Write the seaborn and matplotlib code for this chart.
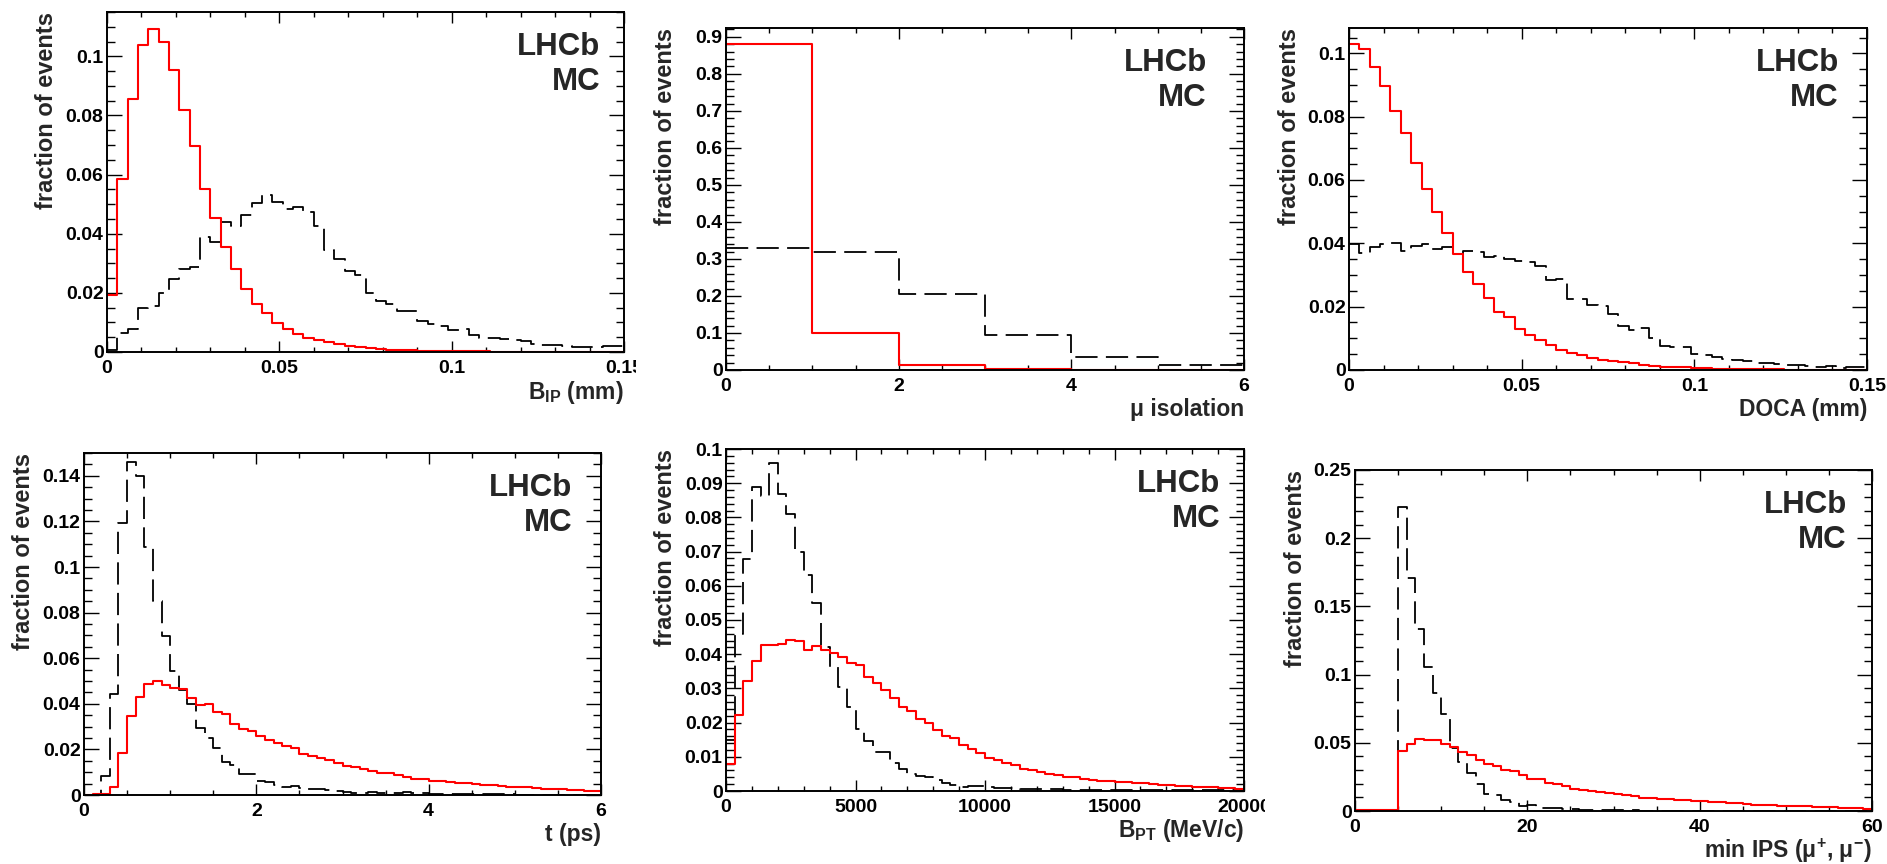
import numpy as np
import pandas as pd
import matplotlib
matplotlib.use("Agg")
import matplotlib.pyplot as plt
import seaborn as sns
from matplotlib.ticker import MultipleLocator, FuncFormatter
from matplotlib.transforms import offset_copy, Bbox

# ---------------- data (fraction of events per bin) ----------------
# Panel 1: B_IP (mm), 50 bins in [0, 0.15]
bip_range = (0.0, 0.15)
bip_sig = [0.0193, 0.0584, 0.0856, 0.1040, 0.1094, 0.1048, 0.0955, 0.0819, 0.0697, 0.0552,
           0.0452, 0.0356, 0.0280, 0.0212, 0.0162, 0.0131, 0.0098, 0.0078, 0.0062, 0.0049,
           0.0039, 0.0033, 0.0027, 0.0021, 0.0017, 0.0013, 0.0010, 0.0008, 0.0007, 0.0006,
           0.0005, 0.0004, 0.0003, 0.0003, 0.0002, 0.0002, 0.0002, 0.0001, 0.0001, 0.0001,
           0.0001, 0.0001, 0.0001, 0.0001, 0.0000, 0.0000, 0.0000, 0.0000, 0.0000, 0.0000]
bip_bkg = [0.0008, 0.0064, 0.0078, 0.0148, 0.0156, 0.0200, 0.0246, 0.0280, 0.0289, 0.0390,
           0.0373, 0.0440, 0.0427, 0.0465, 0.0504, 0.0530, 0.0509, 0.0483, 0.0490, 0.0472,
           0.0426, 0.0345, 0.0313, 0.0274, 0.0260, 0.0198, 0.0173, 0.0163, 0.0140, 0.0138,
           0.0106, 0.0094, 0.0089, 0.0075, 0.0078, 0.0058, 0.0049, 0.0046, 0.0044, 0.0042,
           0.0036, 0.0027, 0.0025, 0.0025, 0.0021, 0.0017, 0.0016, 0.0017, 0.0019, 0.0019]

# Panel 2: mu isolation, 6 bins in [0, 6]
iso_range = (0.0, 6.0)
iso_sig = [0.881, 0.099, 0.0144, 0.0036, 0.0010, 0.0005]
iso_bkg = [0.329, 0.320, 0.204, 0.0956, 0.036, 0.0126]

# Panel 3: DOCA (mm), 50 bins in [0, 0.15]
doca_range = (0.0, 0.15)
doca_sig = [0.1028, 0.1014, 0.0956, 0.0898, 0.0818, 0.0747, 0.0655, 0.0573, 0.0499, 0.0434,
            0.0366, 0.0309, 0.0273, 0.0227, 0.0184, 0.0166, 0.0128, 0.0109, 0.0095, 0.0078,
            0.0062, 0.0055, 0.0046, 0.0038, 0.0032, 0.0027, 0.0024, 0.0021, 0.0017, 0.0014,
            0.0011, 0.0009, 0.0008, 0.0006, 0.0005, 0.0004, 0.0004, 0.0003, 0.0003, 0.0002,
            0.0002, 0.0002, 0.0001, 0.0001, 0.0001, 0.0001, 0.0001, 0.0001, 0.0001, 0.0001]
doca_bkg = [0.0398, 0.0368, 0.0387, 0.0397, 0.0400, 0.0377, 0.0390, 0.0397, 0.0381, 0.0387,
            0.0366, 0.0377, 0.0374, 0.0356, 0.0360, 0.0352, 0.0345, 0.0341, 0.0328, 0.0284,
            0.0288, 0.0224, 0.0223, 0.0205, 0.0202, 0.0177, 0.0139, 0.0126, 0.0132, 0.0100,
            0.0076, 0.0074, 0.0072, 0.0051, 0.0046, 0.0042, 0.0034, 0.0032, 0.0028, 0.0023,
            0.0022, 0.0019, 0.0017, 0.0015, 0.0013, 0.0011, 0.0013, 0.0006, 0.0008, 0.0011]

# Panel 4: t (ps), 60 bins in [0, 6]
t_range = (0.0, 6.0)
t_sig = [0.0002, 0.0003, 0.0003, 0.0034, 0.0183, 0.0345, 0.0430, 0.0487, 0.0500, 0.0484,
         0.0468, 0.0465, 0.0425, 0.0394, 0.0400, 0.0364, 0.0356, 0.0312, 0.0289, 0.0280,
         0.0260, 0.0242, 0.0227, 0.0214, 0.0207, 0.0180, 0.0169, 0.0164, 0.0154, 0.0139,
         0.0129, 0.0122, 0.0113, 0.0107, 0.0095, 0.0098, 0.0086, 0.0078, 0.0070, 0.0072,
         0.0062, 0.0062, 0.0057, 0.0054, 0.0051, 0.0048, 0.0045, 0.0043, 0.0040, 0.0037,
         0.0034, 0.0034, 0.0031, 0.0028, 0.0025, 0.0025, 0.0023, 0.0022, 0.0019, 0.0016]
t_bkg = [0.0001, 0.0002, 0.0084, 0.0444, 0.1192, 0.1459, 0.1400, 0.1088, 0.0850, 0.0696,
         0.0545, 0.0462, 0.0400, 0.0293, 0.0249, 0.0205, 0.0144, 0.0132, 0.0092, 0.0092,
         0.0062, 0.0059, 0.0044, 0.0037, 0.0041, 0.0032, 0.0026, 0.0025, 0.0022, 0.0019,
         0.0013, 0.0010, 0.0010, 0.0012, 0.0010, 0.0007, 0.0009, 0.0012, 0.0007, 0.0007,
         0.0006, 0.0006, 0.0005, 0.0005, 0.0004, 0.0004, 0.0004, 0.0003, 0.0003, 0.0003,
         0.0002, 0.0002, 0.0002, 0.0002, 0.0002, 0.0001, 0.0001, 0.0001, 0.0001, 0.0001]

# Panel 5: B_PT (MeV/c), 60 bins in [0, 20000]
bpt_range = (0.0, 20000.0)
bpt_sig = [0.0079, 0.0222, 0.0322, 0.0380, 0.0427, 0.0428, 0.0430, 0.0442, 0.0438, 0.0413,
           0.0425, 0.0413, 0.0403, 0.0391, 0.0374, 0.0369, 0.0333, 0.0317, 0.0296, 0.0273,
           0.0247, 0.0234, 0.0210, 0.0198, 0.0177, 0.0161, 0.0154, 0.0135, 0.0122, 0.0110,
           0.0096, 0.0091, 0.0083, 0.0075, 0.0065, 0.0060, 0.0056, 0.0050, 0.0046, 0.0042,
           0.0040, 0.0036, 0.0032, 0.0030, 0.0028, 0.0026, 0.0025, 0.0024, 0.0022, 0.0020,
           0.0019, 0.0017, 0.0016, 0.0015, 0.0013, 0.0013, 0.0011, 0.0010, 0.0008, 0.0007]
bpt_bkg = [0.0150, 0.0460, 0.0678, 0.0888, 0.0863, 0.0959, 0.0869, 0.0811, 0.0700, 0.0632,
           0.0549, 0.0420, 0.0364, 0.0303, 0.0245, 0.0181, 0.0147, 0.0115, 0.0115, 0.0081,
           0.0063, 0.0050, 0.0044, 0.0040, 0.0032, 0.0024, 0.0017, 0.0013, 0.0015, 0.0015,
           0.0011, 0.0009, 0.0009, 0.0009, 0.0007, 0.0007, 0.0006, 0.0005, 0.0005, 0.0004,
           0.0004, 0.0004, 0.0003, 0.0003, 0.0003, 0.0003, 0.0003, 0.0003, 0.0003, 0.0002,
           0.0002, 0.0002, 0.0002, 0.0002, 0.0002, 0.0002, 0.0002, 0.0002, 0.0002, 0.0002]

# Panel 6: min IPS(mu+, mu-), 60 bins in [0, 60]
ips_range = (0.0, 60.0)
ips_sig = [0.0004, 0.0004, 0.0004, 0.0004, 0.0004, 0.0438, 0.0489, 0.0526, 0.0523, 0.0523,
           0.0494, 0.0470, 0.0433, 0.0409, 0.0377, 0.0342, 0.0328, 0.0298, 0.0294, 0.0264,
           0.0237, 0.0235, 0.0205, 0.0196, 0.0183, 0.0164, 0.0157, 0.0147, 0.0139, 0.0132,
           0.0127, 0.0117, 0.0108, 0.0093, 0.0093, 0.0088, 0.0086, 0.0083, 0.0078, 0.0073,
           0.0071, 0.0068, 0.0064, 0.0059, 0.0056, 0.0051, 0.0046, 0.0044, 0.0042, 0.0039,
           0.0039, 0.0034, 0.0034, 0.0029, 0.0027, 0.0027, 0.0022, 0.0022, 0.0020, 0.0017]
ips_bkg = [0.0003, 0.0003, 0.0003, 0.0003, 0.0003, 0.2230, 0.1705, 0.1333, 0.1057, 0.0868,
           0.0709, 0.0465, 0.0360, 0.0279, 0.0201, 0.0127, 0.0115, 0.0083, 0.0066, 0.0034,
           0.0042, 0.0024, 0.0024, 0.0024, 0.0017, 0.0015, 0.0010, 0.0005, 0.0010, 0.0006,
           0.0005, 0.0004, 0.0004, 0.0003, 0.0003, 0.0003, 0.0003, 0.0003, 0.0002, 0.0002,
           0.0002, 0.0002, 0.0002, 0.0002, 0.0002, 0.0002, 0.0002, 0.0002, 0.0002, 0.0002,
           0.0002, 0.0002, 0.0002, 0.0002, 0.0002, 0.0002, 0.0002, 0.0002, 0.0002, 0.0002]

x_labels = [r"B$_{IP}$ (mm)", "\u03bc isolation", "DOCA (mm)",
            "t (ps)", r"B$_{PT}$ (MeV/c)", "min IPS (\u03bc$^{+}$, \u03bc$^{-}$)"]
y_label = "fraction of events"

# ---------------- style ----------------
sns.set_theme(style="ticks")
plt.rcParams['font.family'] = ['Liberation Sans', 'DejaVu Sans']
plt.rcParams['font.weight'] = 'bold'
plt.rcParams['mathtext.fontset'] = 'custom'
plt.rcParams['mathtext.rm'] = 'Liberation Sans:bold'
plt.rcParams['mathtext.it'] = 'Liberation Sans:bold'
plt.rcParams['mathtext.bf'] = 'Liberation Sans:bold'
plt.rcParams['mathtext.sf'] = 'Liberation Sans:bold'
plt.rcParams['mathtext.default'] = 'rm'
plt.rcParams['lines.scale_dashes'] = False

W, H = 1887, 864
fig = plt.figure(figsize=(W / 100, H / 100), dpi=100)

# pixel boxes: left, right, top, bottom
boxes = [(107, 624, 12, 352), (726, 1244, 28, 370), (1349, 1867, 28, 370),
         (84, 601, 453, 795), (726, 1244, 449, 791), (1355, 1872, 470, 811)]
ranges = [bip_range, iso_range, doca_range, t_range, bpt_range, ips_range]
sigs = [bip_sig, iso_sig, doca_sig, t_sig, bpt_sig, ips_sig]
bkgs = [bip_bkg, iso_bkg, doca_bkg, t_bkg, bpt_bkg, ips_bkg]
ymax = [0.115, 0.924, 0.108, 0.150, 0.100, 0.250]
xmaj = [0.05, 2, 0.05, 2, 5000, 20]
xmin_ = [0.01, 0.5, 0.01, 0.5, 1000, 5]
ymaj = [0.02, 0.1, 0.02, 0.02, 0.01, 0.05]
ymin_ = [0.005, 0.02, 0.005, 0.005, 0.002, 0.01]
text_dx = [24, 37, 28, 29, 24, 25]
label_clip = [636, None, None, None, 1265, None]

fmt = FuncFormatter(lambda v, _: "0" if abs(v) < 1e-12 else f"{v:g}")

for i in range(6):
    l, r, t, b = boxes[i]
    wpx, hpx = r - l, b - t
    ax = fig.add_axes([l / W, 1 - b / H, wpx / W, hpx / H])
    lo, hi = ranges[i]
    n = len(sigs[i])
    width = (hi - lo) / n
    centers = lo + width * (np.arange(n) + 0.5)
    df = pd.DataFrame({"x": centers, "sig": sigs[i], "bkg": bkgs[i]})

    sns.histplot(data=df, x="x", weights="bkg", bins=n, binrange=(lo, hi),
                 element="step", fill=False, color="black", linewidth=1.3,
                 linestyle=(0, (16, 6)), ax=ax)
    sns.histplot(data=df, x="x", weights="sig", bins=n, binrange=(lo, hi),
                 element="step", fill=False, color="#ff0000", linewidth=1.5, ax=ax)

    ax.set_xlim(lo, hi)
    ax.set_ylim(0, ymax[i])
    ax.xaxis.set_major_locator(MultipleLocator(xmaj[i]))
    ax.xaxis.set_minor_locator(MultipleLocator(xmin_[i]))
    ax.yaxis.set_major_locator(MultipleLocator(ymaj[i]))
    ax.yaxis.set_minor_locator(MultipleLocator(ymin_[i]))
    ax.xaxis.set_major_formatter(fmt)
    ax.yaxis.set_major_formatter(fmt)

    ax.tick_params(which="both", direction="in", top=True, right=True,
                   colors="black", width=1.0, labelsize=14)
    ax.tick_params(axis="x", which="major", length=8, pad=5.5)
    ax.tick_params(axis="x", which="minor", length=3.5)
    ax.tick_params(axis="y", which="major", length=11, pad=2.5)
    ax.tick_params(axis="y", which="minor", length=5.5)
    for s in ax.spines.values():
        s.set_color("black")
        s.set_linewidth(1.4)

    ax.set_xlabel(x_labels[i], loc="right", fontsize=16.5, fontweight="bold")
    ax.xaxis.label.set_va("center")
    ax.xaxis.set_label_coords(1.0, -40 / hpx)
    ax.set_ylabel(y_label, loc="top", fontsize=17, fontweight="bold")
    ax.yaxis.label.set_va("center")
    ax.yaxis.set_label_coords(-60 / wpx, 1.0)

    tr1 = offset_copy(ax.transAxes, fig=fig, x=-text_dx[i], y=-43, units="dots")
    tr2 = offset_copy(ax.transAxes, fig=fig, x=-text_dx[i], y=-78, units="dots")
    ax.text(1, 1, "LHCb", transform=tr1, ha="right", va="baseline",
            fontsize=22.5, fontweight="bold")
    ax.text(1, 1, "MC", transform=tr2, ha="right", va="baseline",
            fontsize=22.5, fontweight="bold")

    if label_clip[i] is not None:
        clip = Bbox([[0, 0], [label_clip[i], H]])
        for tk in ax.xaxis.get_major_ticks():
            tk.label1.set_clip_box(clip)
            tk.label1.set_clip_on(True)

fig.savefig("out.png", dpi=100, facecolor="white")
